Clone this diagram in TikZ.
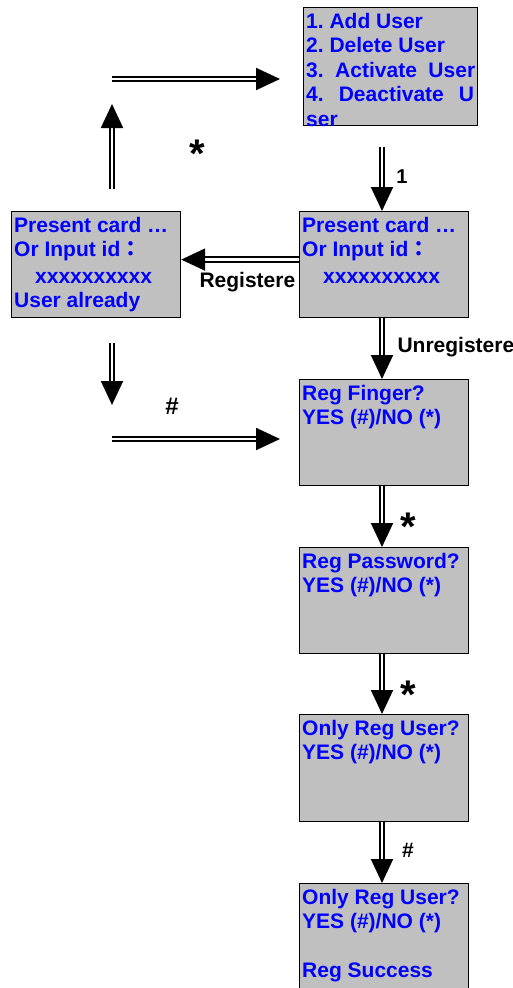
\documentclass[tikz,border=0pt]{standalone}
\usepackage{fontspec}
\setmainfont{Liberation Sans}
\newfontfamily\cjk{Noto Sans CJK JP}
\usetikzlibrary{arrows.meta}

\definecolor{lcdgray}{HTML}{C0C0C0}
\frenchspacing

\begin{document}
\begin{tikzpicture}[
    x=1pt, y=-1pt,
    screen/.style={rectangle, draw, line width=1.2pt, fill=lcdgray, anchor=north west, minimum width=169pt, minimum height=106pt, inner sep=0pt},
    screentext/.style={anchor=north west, inner sep=0pt, xshift=3pt, yshift=-6pt, align=left, text=blue, font=\fontsize{21}{24.5}\selectfont\bfseries},
    flow/.style={double, double distance=2.8pt, line width=1.9pt, -{Triangle[length=24pt, width=22pt]}},
    keylabel/.style={anchor=base, font=\fontsize{21}{21}\selectfont\bfseries},
    starlabel/.style={anchor=base, font=\fontsize{40}{40}\selectfont\bfseries}
]
\useasboundingbox (0,0) rectangle (513,988);

% screens
\node[screen, minimum width=174pt, minimum height=118pt] (menu) at (303,7) {};
\node[screen] (card1) at (11,211) {};
\node[screen] (card2) at (299,211) {};
\node[screen] (finger) at (299,379) {};
\node[screen] (passwd) at (299,547) {};
\node[screen, minimum height=107pt] (onlyreg) at (299,714) {};
\node[screen, minimum height=107pt] (success) at (299,883) {};

% screen texts
\node[screentext] at (menu.north west) {1. Add User\\2. Delete User\\\makebox[169pt][s]{3. Activate User}\\\makebox[168pt][s]{4. Deactivate U}\\ser};
\node[screentext] at (card1.north west) {Present card …\\Or Input id{\cjk ：}\\[2pt]\hspace*{21pt}xxxxxxxxxx\\User already};
\node[screentext] at (card2.north west) {Present card …\\Or Input id{\cjk ：}\\[2pt]\hspace*{21pt}xxxxxxxxxx};
\node[screentext] at (finger.north west) {Reg Finger?\\YES (\#)/NO (*)};
\node[screentext] at (passwd.north west) {Reg Password?\\YES (\#)/NO (*)};
\node[screentext] at (onlyreg.north west) {Only Reg User?\\YES (\#)/NO (*)};
\node[screentext] at (success.north west) {Only Reg User?\\YES (\#)/NO (*)\\[24.5pt]Reg Success};

% free ends
\coordinate (loopstart) at (112,79);
\coordinate (loopend) at (280,79);
\coordinate (backfoot) at (112,189);
\coordinate (backtip) at (112,104);
\coordinate (menuout) at (382,147);
\coordinate (oldfoot) at (112,343);
\coordinate (oldtip) at (112,405);
\coordinate (skipstart) at (112,439);
\coordinate (skipend) at (280,439);

% connectors
\draw[flow] (loopstart) -- (loopend);
\draw[flow] (backfoot) -- (backtip);
\draw[flow] (menuout) -- (card2.north -| menuout);
\draw[flow] ([yshift=5pt]card2.west) -- ([yshift=5pt]card1.east);
\draw[flow] (card2.south -| menuout) -- (finger.north -| menuout);
\draw[flow] (oldfoot) -- (oldtip);
\draw[flow] (skipstart) -- (skipend);
\draw[flow] (finger.south -| menuout) -- (passwd.north -| menuout);
\draw[flow] (passwd.south -| menuout) -- (onlyreg.north -| menuout);
\draw[flow] (onlyreg.south -| menuout) -- (success.north -| menuout);

% keys
\node[starlabel] (backkey) at (197,167) {*};
\node[keylabel, font=\fontsize{20}{20}\selectfont\bfseries] (menukey) at (402,183) {1};
\node[keylabel, anchor=base west] (regkey) at (196,287) {Registere};
\node[keylabel, anchor=base west] (unregkey) at (394,352) {Unregistere};
\node[keylabel, font=\fontsize{24}{24}\selectfont\bfseries] (oldkey) at (172,414) {\#};
\node[starlabel] (fingerkey) at (408,540) {*};
\node[starlabel] (passwdkey) at (408,708) {*};
\node[keylabel, font=\fontsize{21}{21}\selectfont\bfseries] (onlykey) at (408,857) {\#};
\end{tikzpicture}
\end{document}
